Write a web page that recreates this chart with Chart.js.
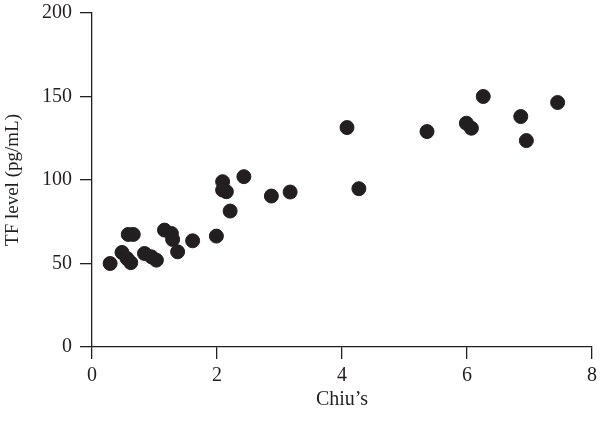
<!DOCTYPE html>
<html>
<head>
<meta charset="utf-8">
<script src="https://cdn.jsdelivr.net/npm/chart.js@4/dist/chart.umd.min.js"></script>
<style>
  html, body { margin: 0; padding: 0; background: #fff; }
  #wrap { width: 600px; height: 422px; }
</style>
</head>
<body>
<div id="wrap"><canvas id="chart"></canvas></div>
<script>
// Chiu's score vs TF level
const chiuValues = [0.29, 0.48, 0.58, 0.66, 0.56, 0.62, 0.84, 0.95, 1.03,
  1.16, 1.27, 1.29, 1.37, 1.61, 1.99, 2.09, 2.09, 2.15, 2.21, 2.43, 2.87, 3.17,
  4.08, 4.27, 5.36, 5.99, 6.07, 6.26, 6.86, 6.95, 7.45];
const tfLevels = [50, 56.6, 67.4, 67.4, 53, 50.5, 56, 54, 52,
  70, 68, 64.4, 57, 63.6, 66.4, 99, 94, 93, 81.4, 102, 90.4, 92.8,
  131.4, 94.8, 129, 134, 131, 150, 138, 123.6, 146.4];
const xTicks = [0, 2, 4, 6, 8];
const yTicks = [0, 50, 100, 150, 200];

const points = chiuValues.map((x, i) => ({ x: x, y: tfLevels[i] }));
const serif = "'Liberation Serif', 'DejaVu Serif', serif";
const ink = "#231f20";

new Chart(document.getElementById("chart"), {
  type: "scatter",
  data: {
    datasets: [
      {
        data: points,
        backgroundColor: ink,
        borderColor: ink,
        pointRadius: 7,
        pointHoverRadius: 7,
      },
    ],
  },
  options: {
    responsive: true,
    maintainAspectRatio: false,
    animation: false,
    layout: { padding: { top: 13, right: 5, left: 0, bottom: 0 } },
    plugins: {
      legend: { display: false },
      tooltip: { enabled: false },
    },
    scales: {
      x: {
        type: "linear",
        min: 0,
        max: 8,
        afterBuildTicks: (scale) => {
          scale.ticks = xTicks.map((v) => ({ value: v }));
        },
        afterFit: (scale) => {
          scale.height = 75;
          scale.paddingLeft = 0;
          scale.paddingRight = 0;
        },
        border: { color: ink, width: 1.3 },
        grid: { drawOnChartArea: false, tickLength: 12, color: ink, lineWidth: 1.3 },
        ticks: { color: ink, padding: 5, font: { family: serif, size: 20 } },
        title: {
          display: true,
          text: "Chiu\u2019s",
          color: ink,
          padding: { top: 0, bottom: 10 },
          font: { family: serif, size: 20 },
        },
      },
      y: {
        type: "linear",
        min: 0,
        max: 200,
        afterBuildTicks: (scale) => {
          scale.ticks = yTicks.map((v) => ({ value: v }));
        },
        afterFit: (scale) => {
          scale.width = 92;
          scale.paddingTop = 0;
          scale.paddingBottom = 0;
        },
        border: { color: ink, width: 1.3 },
        grid: { drawOnChartArea: false, tickLength: 12, color: ink, lineWidth: 1.3 },
        ticks: { color: ink, padding: 8, font: { family: serif, size: 20 } },
        title: {
          display: true,
          text: "TF level (pg/mL)",
          color: ink,
          padding: { top: 2, bottom: 0 },
          font: { family: serif, size: 19 },
        },
      },
    },
  },
});
</script>
</body>
</html>
